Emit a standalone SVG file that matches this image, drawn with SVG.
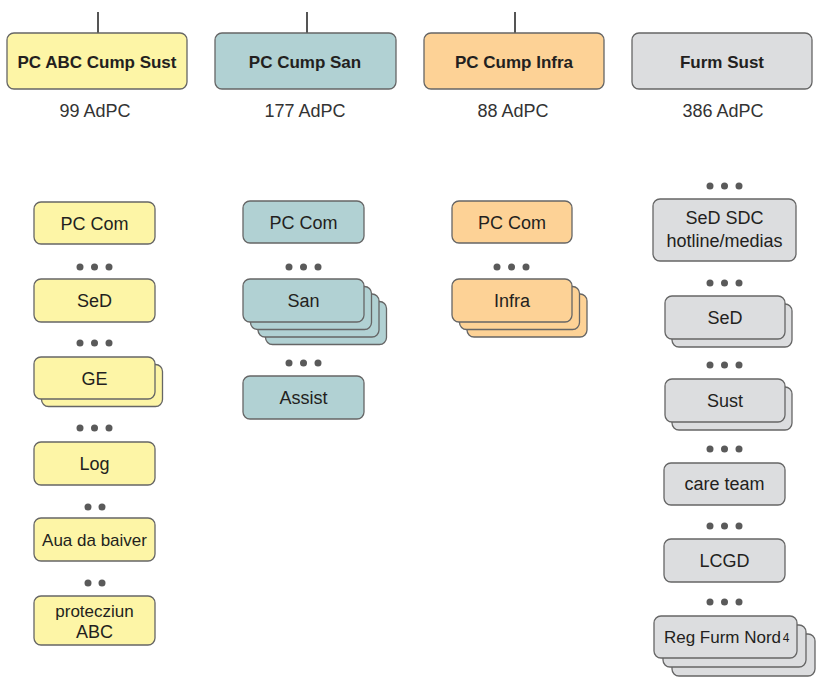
<svg xmlns="http://www.w3.org/2000/svg" width="818" height="677" viewBox="0 0 818 677">
<style>
text{font-family:"Liberation Sans",Arial,sans-serif;fill:#231f20;text-anchor:middle}
.t{font-size:17px;font-weight:bold}
.s{font-size:18px}
.c{font-size:18px;fill:#333}
.b{stroke:#666;stroke-width:1.3}
.y{fill:#fdf5a6}.g{fill:#b1d1d3}.o{fill:#fdd296}.k{fill:#dcdddf}
.d{fill:#5a5a5a}
.ln{stroke:#555;stroke-width:2}
</style>
<g id="connectors">
<line class="ln" x1="98" y1="12" x2="98" y2="33"/>
<line class="ln" x1="307" y1="12" x2="307" y2="33"/>
<line class="ln" x1="515" y1="12" x2="515" y2="33"/>
</g>
<g id="h1"><rect class="b y" x="7" y="33" width="180" height="56" rx="7"/><text class="t" x="97" y="68">PC ABC Cump Sust</text><text class="c" x="95" y="117">99 AdPC</text></g>
<g id="h2"><rect class="b g" x="215" y="33" width="181" height="56" rx="7"/><text class="t" x="305" y="68">PC Cump San</text><text class="c" x="305" y="117">177 AdPC</text></g>
<g id="h3"><rect class="b o" x="424" y="33" width="180" height="56" rx="7"/><text class="t" x="514" y="68">PC Cump Infra</text><text class="c" x="513" y="117">88 AdPC</text></g>
<g id="h4"><rect class="b k" x="632" y="33" width="180" height="56" rx="7"/><text class="t" x="722" y="68">Furm Sust</text><text class="c" x="723" y="117">386 AdPC</text></g>

<g id="dots">
<g class="d"><circle cx="80" cy="267" r="3.5"/><circle cx="94.5" cy="267" r="3.5"/><circle cx="109" cy="267" r="3.5"/></g>
<g class="d"><circle cx="80" cy="343" r="3.5"/><circle cx="94.5" cy="343" r="3.5"/><circle cx="109" cy="343" r="3.5"/></g>
<g class="d"><circle cx="80" cy="428" r="3.5"/><circle cx="94.5" cy="428" r="3.5"/><circle cx="109" cy="428" r="3.5"/></g>
<g class="d"><circle cx="88" cy="507" r="3.5"/><circle cx="102" cy="507" r="3.5"/></g>
<g class="d"><circle cx="88" cy="583" r="3.5"/><circle cx="102" cy="583" r="3.5"/></g>
<g class="d"><circle cx="289" cy="267" r="3.5"/><circle cx="303.5" cy="267" r="3.5"/><circle cx="318" cy="267" r="3.5"/></g>
<g class="d"><circle cx="289" cy="363" r="3.5"/><circle cx="303.5" cy="363" r="3.5"/><circle cx="318" cy="363" r="3.5"/></g>
<g class="d"><circle cx="497" cy="267" r="3.5"/><circle cx="511.5" cy="267" r="3.5"/><circle cx="526" cy="267" r="3.5"/></g>
<g class="d"><circle cx="710" cy="186" r="3.5"/><circle cx="724.5" cy="186" r="3.5"/><circle cx="739" cy="186" r="3.5"/></g>
<g class="d"><circle cx="710" cy="283" r="3.5"/><circle cx="724.5" cy="283" r="3.5"/><circle cx="739" cy="283" r="3.5"/></g>
<g class="d"><circle cx="710" cy="365" r="3.5"/><circle cx="724.5" cy="365" r="3.5"/><circle cx="739" cy="365" r="3.5"/></g>
<g class="d"><circle cx="710" cy="449" r="3.5"/><circle cx="724.5" cy="449" r="3.5"/><circle cx="739" cy="449" r="3.5"/></g>
<g class="d"><circle cx="710" cy="526" r="3.5"/><circle cx="724.5" cy="526" r="3.5"/><circle cx="739" cy="526" r="3.5"/></g>
<g class="d"><circle cx="710" cy="602" r="3.5"/><circle cx="724.5" cy="602" r="3.5"/><circle cx="739" cy="602" r="3.5"/></g>
</g>

<g id="a1"><rect class="b y" x="34" y="202" width="121" height="42" rx="7"/><text class="s" x="94.5" y="229.5">PC Com</text></g>
<g id="a2"><rect class="b y" x="34" y="279" width="121" height="43" rx="7"/><text class="s" x="94.5" y="307">SeD</text></g>
<g id="a3"><rect class="b y" x="41.5" y="364.5" width="121" height="42" rx="7"/><rect class="b y" x="34" y="357" width="121" height="42" rx="7"/><text class="s" x="94.5" y="384.5">GE</text></g>
<g id="a4"><rect class="b y" x="34" y="442" width="121" height="43" rx="7"/><text class="s" x="94.5" y="470">Log</text></g>
<g id="a5"><rect class="b y" x="34" y="518" width="121" height="43" rx="7"/><text class="s" x="94.5" y="546" style="font-size:17px">Aua da baiver</text></g>
<g id="a6"><rect class="b y" x="34" y="596" width="121" height="49" rx="7"/><text class="s" x="94.5" y="617" style="font-size:17px">protecziun</text><text class="s" x="94.5" y="638">ABC</text></g>

<g id="b1"><rect class="b g" x="243" y="201" width="121" height="42" rx="7"/><text class="s" x="303.5" y="228.5">PC Com</text></g>
<g id="b2"><rect class="b g" x="265.5" y="301.5" width="121" height="43" rx="7"/><rect class="b g" x="258" y="294" width="121" height="43" rx="7"/><rect class="b g" x="250.5" y="286.5" width="121" height="43" rx="7"/><rect class="b g" x="243" y="279" width="121" height="43" rx="7"/><text class="s" x="303.5" y="307">San</text></g>
<g id="b3"><rect class="b g" x="243" y="376" width="121" height="43" rx="7"/><text class="s" x="303.5" y="404">Assist</text></g>

<g id="c1"><rect class="b o" x="452" y="201" width="120" height="42" rx="7"/><text class="s" x="512" y="228.5">PC Com</text></g>
<g id="c2"><rect class="b o" x="467" y="294" width="120" height="43" rx="7"/><rect class="b o" x="459.5" y="286.5" width="120" height="43" rx="7"/><rect class="b o" x="452" y="279" width="120" height="43" rx="7"/><text class="s" x="512" y="307">Infra</text></g>

<g id="d1"><rect class="b k" x="653" y="199" width="143" height="62" rx="7"/><text class="s" x="724.5" y="224">SeD SDC</text><text class="s" x="724.5" y="247">hotline/medias</text></g>
<g id="d2"><rect class="b k" x="672" y="304" width="120" height="43" rx="7"/><rect class="b k" x="665" y="296" width="120" height="43" rx="7"/><text class="s" x="725" y="324">SeD</text></g>
<g id="d3"><rect class="b k" x="672" y="387" width="120" height="43" rx="7"/><rect class="b k" x="665" y="379" width="120" height="43" rx="7"/><text class="s" x="725" y="407">Sust</text></g>
<g id="d4"><rect class="b k" x="664" y="463" width="121" height="42" rx="7"/><text class="s" x="724.5" y="490">care team</text></g>
<g id="d5"><rect class="b k" x="664" y="539" width="121" height="43" rx="7"/><text class="s" x="724.5" y="567">LCGD</text></g>
<g id="d6"><rect class="b k" x="672" y="634" width="143" height="42" rx="7"/><rect class="b k" x="663" y="625" width="143" height="42" rx="7"/><rect class="b k" x="654" y="616" width="143" height="42" rx="7"/><text x="722.5" y="643" style="font-size:17px">Reg Furm Nord</text><text x="786" y="642" style="font-size:12px">4</text></g>
</svg>
